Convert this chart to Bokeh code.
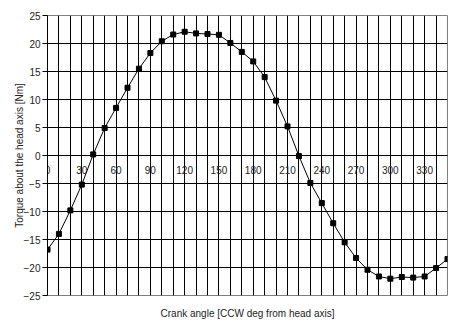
from bokeh.plotting import figure
from bokeh.models import ColumnDataSource, LinearAxis, FixedTicker, Range1d
from bokeh.embed import file_html
from bokeh.resources import INLINE

# Data
angles = [0, 10, 20, 30, 40, 50, 60, 70, 80, 90, 100, 110, 120, 130, 140, 150, 160, 170,
          180, 190, 200, 210, 220, 230, 240, 250, 260, 270, 280, 290, 300, 310, 320, 330, 340, 350]
torque = [-16.8, -14.0, -9.8, -5.2, 0.2, 4.9, 8.5, 12.1, 15.5, 18.3, 20.4, 21.6, 22.1, 21.8,
          21.7, 21.55, 20.1, 18.5, 16.8, 14.0, 9.8, 5.2, -0.1, -4.9, -8.5, -12.1, -15.5, -18.3,
          -20.4, -21.6, -22.0, -21.7, -21.8, -21.6, -20.1, -18.5]
x_tick_labels = [0, 30, 60, 90, 120, 150, 180, 210, 240, 270, 300, 330]
y_ticks = [-25, -20, -15, -10, -5, 0, 5, 10, 15, 20, 25]
x_title = "Crank angle [CCW deg from head axis]"
y_title = "Torque about the head axis [Nm]"

FONT = "Liberation Sans"
TXT = "#222222"

src = ColumnDataSource(data=dict(angle=angles, torque=torque))

p = figure(width=462, height=325, output_backend="svg", toolbar_location=None,
           x_range=Range1d(0, 350), y_range=Range1d(-25, 25),
           frame_width=400, frame_height=280,
           min_border_left=47, min_border_right=15, min_border_top=15, min_border_bottom=30,
           background_fill_color="white", border_fill_color="white")

p.outline_line_color = "#808080"
p.outline_line_width = 1

# grids
p.xgrid.ticker = FixedTicker(ticks=angles[:-1])
p.ygrid.ticker = FixedTicker(ticks=y_ticks[:-1])
p.xgrid.grid_line_color = "black"
p.ygrid.grid_line_color = "black"
p.xgrid.grid_line_width = 1
p.ygrid.grid_line_width = 1

# bottom axis: title only
xa = p.xaxis[0]
xa.ticker = FixedTicker(ticks=[])
xa.axis_line_color = None
xa.major_tick_line_color = None
xa.minor_tick_line_color = None
xa.axis_label = x_title
xa.axis_label_text_font = FONT
xa.axis_label_text_font_size = "10px"
xa.axis_label_text_font_style = "normal"
xa.axis_label_text_color = TXT
xa.axis_label_standoff = 12

# category axis at y = 0 with labels
xa0 = LinearAxis(fixed_location=0, ticker=FixedTicker(ticks=x_tick_labels))
xa0.axis_line_color = "black"
xa0.major_tick_line_color = None
xa0.minor_tick_line_color = None
xa0.major_label_text_font = FONT
xa0.major_label_text_font_size = "10px"
xa0.major_label_text_color = TXT
xa0.major_label_standoff = 4
p.add_layout(xa0, "below")

# left axis
ya = p.yaxis[0]
ya.ticker = FixedTicker(ticks=y_ticks)
ya.axis_line_color = "black"
ya.major_tick_line_color = "black"
ya.major_tick_in = 0
ya.major_tick_out = 5
ya.minor_tick_line_color = None
ya.major_label_text_font = FONT
ya.major_label_text_font_size = "10px"
ya.major_label_text_color = TXT
ya.major_label_standoff = 2
ya.axis_label = y_title
ya.axis_label_text_font = FONT
ya.axis_label_text_font_size = "10px"
ya.axis_label_text_font_style = "normal"
ya.axis_label_text_color = TXT
ya.axis_label_standoff = -4

p.line("angle", "torque", source=src, line_color="black", line_width=1)
p.scatter("angle", "torque", source=src, marker="square", size=5,
          fill_color="black", line_color="black")

open("out.html", "w").write(file_html(p, INLINE))
